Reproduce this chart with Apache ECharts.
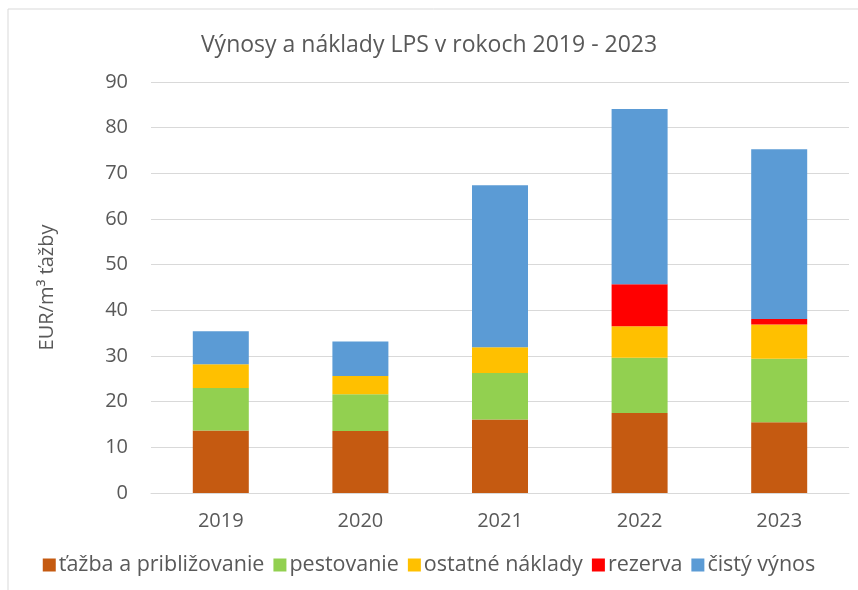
<!DOCTYPE html>
<html>
<head>
<meta charset="utf-8">
<script src="https://cdn.jsdelivr.net/npm/echarts@6/dist/echarts.min.js"></script>
<style>html,body{margin:0;padding:0;background:#fff}#c{width:858px;height:590px}</style>
</head>
<body>
<div id="c"></div>
<script>
const years = ['2019', '2020', '2021', '2022', '2023'];
const tazba = [13.7, 13.6, 16.1, 17.5, 15.5];
const pestovanie = [9.3, 8.0, 10.2, 12.1, 13.9];
const ostatne = [5.2, 4.0, 5.6, 6.9, 7.5];
const rezerva = [0, 0, 0, 9.2, 1.2];
const cistyVynos = [7.2, 7.6, 35.5, 38.4, 37.2];
const seriesNames = ['ťažba a približovanie', 'pestovanie', 'ostatné náklady', 'rezerva', 'čistý výnos'];
const colors = ['#C55A11', '#92D050', '#FFC000', '#FF0000', '#5B9BD5'];
const yTicks = [0, 10, 20, 30, 40, 50, 60, 70, 80, 90];

const FONT = 'Open Sans';
const TXT = '#595959';
const data = [tazba, pestovanie, ostatne, rezerva, cistyVynos];

const chart = echarts.init(document.getElementById('c'), null, {renderer: 'canvas'});
chart.setOption({
  animation: false,
  color: colors,
  textStyle: {fontFamily: FONT},
  graphic: [{
    type: 'rect', shape: {x: 8, y: 9, width: 900, height: 700},
    style: {fill: 'none', stroke: '#D9D9D9', lineWidth: 1}, silent: true, z: -10
  }],
  title: {
    text: 'Výnosy a náklady LPS v rokoch 2019 - 2023',
    left: 'center', top: 29,
    textStyle: {fontFamily: FONT, fontSize: 23, fontWeight: 'normal', color: TXT}
  },
  legend: {
    bottom: 9, left: 'center',
    itemWidth: 13, itemHeight: 13, itemGap: 9,
    icon: 'rect',
    textStyle: {fontFamily: FONT, fontSize: 21.5, color: TXT, padding: [0, 0, 0, -2]},
    data: seriesNames
  },
  grid: {left: 151, right: 9, top: 82, bottom: 97, containLabel: false},
  xAxis: {
    type: 'category', data: years,
    axisLine: {lineStyle: {color: '#D9D9D9', width: 1}},
    axisTick: {show: false},
    axisLabel: {fontFamily: FONT, fontSize: 20, color: TXT, margin: 18}
  },
  yAxis: {
    type: 'value', min: 0, max: 90, interval: 10,
    name: 'EUR/m³ ťažby', nameLocation: 'middle', nameGap: 94, nameRotate: 90,
    nameTextStyle: {fontFamily: FONT, fontSize: 20, color: TXT},
    axisLine: {show: false}, axisTick: {show: false},
    axisLabel: {fontFamily: FONT, fontSize: 20, color: TXT, margin: 23,
      formatter: v => yTicks.includes(v) ? String(v) : ''},
    splitLine: {lineStyle: {color: '#D9D9D9', width: 1}}
  },
  series: seriesNames.map((n, i) => ({
    name: n, type: 'bar', stack: 'total', data: data[i],
    barWidth: 56,
    itemStyle: {color: colors[i]}
  }))
});
</script>
</body>
</html>
